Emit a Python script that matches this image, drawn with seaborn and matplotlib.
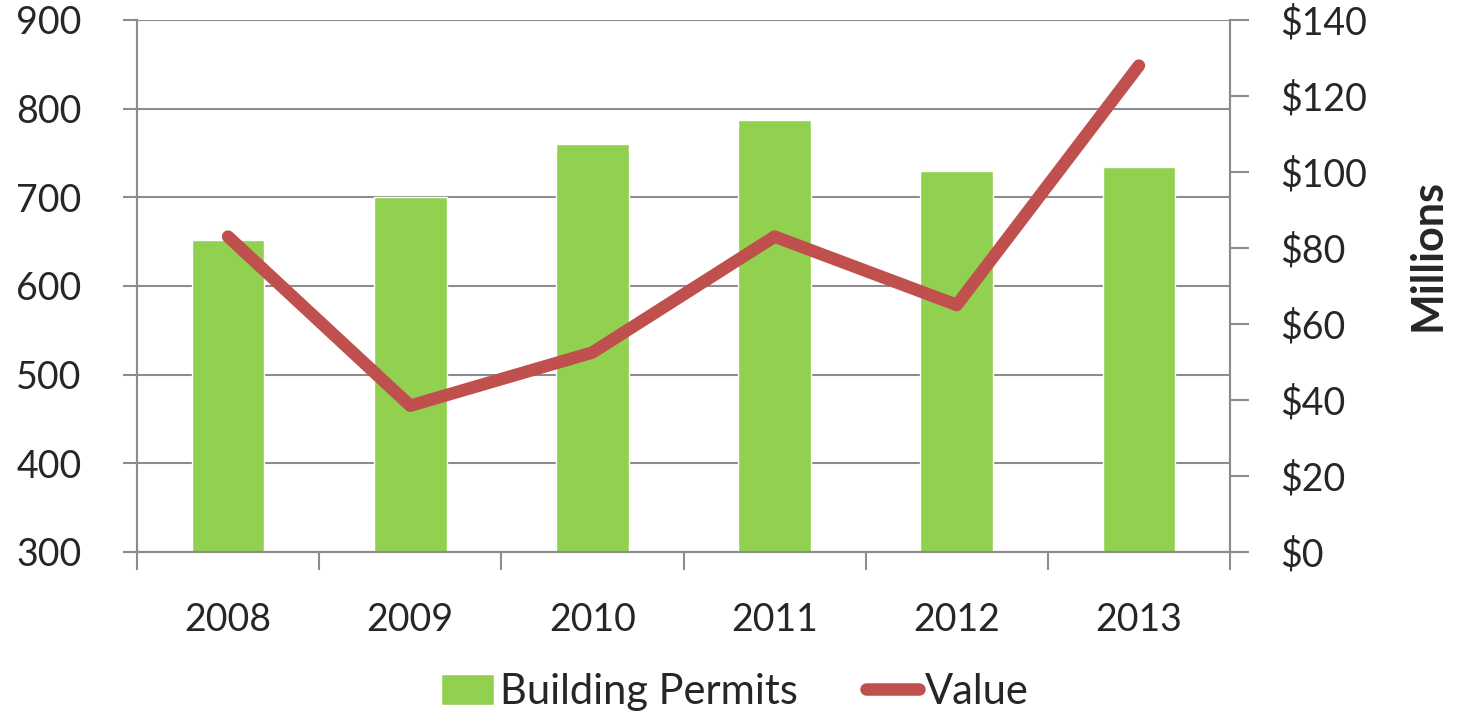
import matplotlib
matplotlib.use("Agg")
import matplotlib.pyplot as plt
import pandas as pd
import seaborn as sns
from matplotlib.ticker import FixedLocator, FuncFormatter

# chart data
years = ["2008", "2009", "2010", "2011", "2012", "2013"]
permits = [652, 700, 760, 787, 730, 734]
value_millions = [83, 38.5, 52.5, 83, 65, 128]

left_ticks = [300, 400, 500, 600, 700, 800, 900]
right_ticks = [0, 20, 40, 60, 80, 100, 120, 140]

df = pd.DataFrame({"Year": years, "Permits": permits, "Value": value_millions})

sns.set_style("white")
plt.rcParams["font.family"] = ["Lato", "DejaVu Sans"]

green = "#92D050"
red = "#C0504D"
grid_col = "#8C8C8C"

fig = plt.figure(figsize=(14.71, 7.21), dpi=100)
ax = fig.add_axes([0.0931, 0.2344, 0.7431, 0.7379])

sns.barplot(data=df, x="Year", y="Permits", color=green, width=0.4,
            saturation=1, ax=ax, label="Building Permits")
if ax.get_legend() is not None:
    ax.get_legend().remove()
ax.set_ylim(300, 900)
ax.set_xlim(-0.5, len(years) - 0.5)
ax.yaxis.set_major_locator(FixedLocator(left_ticks))
ax.grid(axis="y", color=grid_col, linewidth=1.5)
ax.set_axisbelow(True)
ax.set_xlabel("")
ax.set_ylabel("")

ax2 = ax.twinx()
sns.lineplot(data=df, x="Year", y="Value", color=red, linewidth=9,
             solid_capstyle="round", solid_joinstyle="round", ax=ax2,
             label="Value", legend=False)
ax2.set_ylim(0, 140)
ax2.yaxis.set_major_locator(FixedLocator(right_ticks))
ax2.yaxis.set_major_formatter(FuncFormatter(lambda v, p: f"${int(v)}"))
ax2.set_ylabel("Millions", fontsize=31, fontweight="bold")
ax2.yaxis.set_label_coords(1.162, 0.558)
ax2.set_xlabel("")
ax.set_xlim(-0.5, len(years) - 0.5)

# x ticks: labels at centres, marks at category boundaries
ax.set_xticks(range(len(years)))
ax.set_xticks([i - 0.5 for i in range(len(years) + 1)], minor=True)
ax.tick_params(axis="x", which="major", length=0, pad=36, labelsize=27)
ax.tick_params(axis="x", which="minor", length=13, width=1.5,
               color=grid_col, direction="out", bottom=True)
ax.tick_params(axis="y", length=10, width=1.5, color=grid_col,
               direction="out", left=True, pad=30, labelsize=27)
ax2.tick_params(axis="y", length=14, width=1.5, color=grid_col,
                direction="out", right=True, pad=22, labelsize=27)

for a in (ax, ax2):
    for side in ("left", "right", "bottom"):
        a.spines[side].set_color(grid_col)
        a.spines[side].set_linewidth(1.5)
    a.spines["top"].set_visible(False)

h1, l1 = ax.get_legend_handles_labels()
h2, l2 = ax2.get_legend_handles_labels()
leg = fig.legend(h1 + h2, l1 + l2, loc="center", bbox_to_anchor=(0.4995, 0.040),
                 ncol=2, frameon=False, fontsize=30, handlelength=1.27,
                 handleheight=0.75, handletextpad=0.15, columnspacing=1.63)

fig.savefig("out.png", dpi=100)
